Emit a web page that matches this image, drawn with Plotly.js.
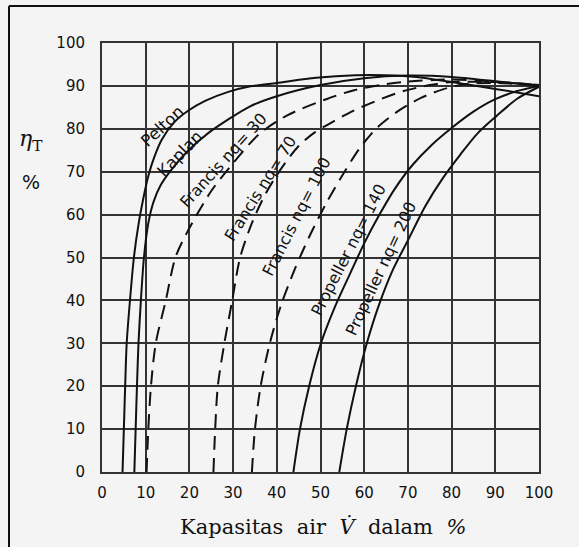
<!DOCTYPE html>
<html>
<head>
<meta charset="utf-8">
<script src="https://cdn.plot.ly/plotly-3.0.1.min.js"></script>
<style>
  html, body { margin: 0; padding: 0; background: #f4f4f4; }
  #chart { width: 579px; height: 547px; }
</style>
</head>
<body>
<div id="chart"></div>
<script>
// ---- Data ----
const peltonX = [4.7, 5.0, 5.3, 5.65, 6.4, 7.3, 8.4, 9.5, 10.6, 12.0, 13.7, 16.5, 19.7, 23.6, 28.9, 34, 40, 49, 58, 65, 72, 80, 90, 100];
const peltonY = [0, 10, 20, 30, 40, 50, 58, 64, 69, 73.5, 77.5, 81.5, 84.2, 86.5, 88.6, 89.9, 90.7, 91.9, 92.5, 92.5, 92.1, 90.9, 89.3, 87.6];

const kaplanX = [7.4, 7.7, 8.0, 8.35, 8.9, 9.6, 10.6, 11.8, 13.5, 15.9, 19.8, 24.3, 28.9, 34, 40, 50, 60, 70, 80, 90, 100];
const kaplanY = [0, 10, 20, 30, 40, 50, 58, 63, 67, 70.5, 75, 79, 82.2, 85.3, 87.6, 90.2, 91.8, 92.4, 92.1, 91.1, 90];

const francis30X = [10.2, 10.6, 11.2, 12.3, 14.6, 16.8, 19.8, 25, 30, 36, 42.5, 51.3, 57.7, 64.4, 70, 80, 90, 100];
const francis30Y = [0, 10, 20, 30, 40, 50, 56.5, 65.5, 72, 78.8, 83.2, 86.9, 89.0, 90.3, 91.0, 91.5, 91.0, 90.2];

const francis70X = [25.5, 25.9, 26.5, 28.0, 29.8, 31.6, 34.3, 37.5, 41.2, 45, 48.6, 51.7, 57.5, 64, 69, 75, 80, 90, 100];
const francis70Y = [0, 10, 20, 30, 40, 50, 58, 65, 71, 76, 79.1, 81, 84.2, 87, 88.8, 90.2, 90.9, 90.9, 90.2];

const francis100X = [34.3, 35.0, 36.3, 38.4, 41, 44, 47.5, 51.5, 55.5, 59, 63, 68, 73, 78, 83, 90, 100];
const francis100Y = [0, 10, 20, 30, 39, 47, 55, 63, 70, 75.5, 80.3, 84.3, 87.2, 89.2, 90.4, 90.7, 90.1];

const propeller140X = [43.8, 45.3, 47.4, 50.1, 53.3, 56.8, 60, 63.5, 67, 71, 75.5, 80, 85, 90, 95, 100];
const propeller140Y = [0, 10, 20, 30, 38.5, 46.3, 53.3, 60, 66, 71.5, 76.3, 80.2, 84, 86.9, 88.8, 90];

const propeller200X = [54.3, 56.0, 58.1, 60.6, 63.4, 66.5, 70, 74, 78, 82, 86, 90.3, 95, 100];
const propeller200Y = [0, 10, 20, 30, 39, 47, 54, 62, 68.5, 74, 79, 83, 87, 89.8];

const tickVals = [0, 10, 20, 30, 40, 50, 60, 70, 80, 90, 100];
const tickText = ["0", "10", "20", "30", "40", "50", "60", "70", "80", "90", "100"];

// curve labels
const labelTexts = ["Pelton", "Kaplan", "Francis nq= 30", "Francis nq= 70", "Francis nq= 100", "Propeller nq= 140", "Propeller nq= 200"];
const labelX = [13.8, 17.95, 27.7, 36.2, 44.5, 56.3, 63.8];
const labelY = [80.5, 74.15, 72.7, 66.15, 59.6, 51.7, 47.5];
const labelAngle = [-43, -46, -48, -58, -63, -63, -65];
const labelSize = [16.5, 16.5, 16, 16, 16, 16, 16];

const xTitle = "Kapasitas\u00a0\u00a0air\u00a0\u00a0<i>V\u0307</i>\u00a0\u00a0dalam\u00a0\u00a0<i>%</i>";

// ---- Traces ----
function curve(x, y, dashed) {
  return {
    x: x, y: y, type: "scatter", mode: "lines",
    line: { color: "#111", width: 2, shape: "spline", smoothing: 0.8, dash: dashed ? "14px,8px" : "solid" },
    hoverinfo: "skip", showlegend: false
  };
}
const data = [
  curve(peltonX, peltonY, false),
  curve(kaplanX, kaplanY, false),
  curve(francis30X, francis30Y, true),
  curve(francis70X, francis70Y, true),
  curve(francis100X, francis100Y, true),
  curve(propeller140X, propeller140Y, false),
  curve(propeller200X, propeller200Y, false)
];

const annotations = labelTexts.map((t, i) => ({
  text: t, x: labelX[i], y: labelY[i], xref: "x", yref: "y",
  showarrow: false, textangle: labelAngle[i],
  font: { family: "DejaVu Sans", size: labelSize[i], color: "#111" },
  xanchor: "center", yanchor: "middle"
}));
annotations.push(
  { text: "<i>\u03b7</i><sub>T</sub>", xref: "paper", yref: "paper", x: -0.162, y: 0.772, showarrow: false,
    font: { family: "DejaVu Serif", size: 22, color: "#111" }, xanchor: "center", yanchor: "middle" },
  { text: "%", xref: "paper", yref: "paper", x: -0.162, y: 0.676, showarrow: false,
    font: { family: "DejaVu Sans", size: 19, color: "#111" }, xanchor: "center", yanchor: "middle" },
  { text: xTitle, xref: "paper", yref: "paper", x: 0.505, y: -0.128, showarrow: false,
    font: { family: "DejaVu Serif", size: 21, color: "#111" }, xanchor: "center", yanchor: "middle" }
);

const axisCommon = {
  range: [0, 100], tickmode: "array", tickvals: tickVals, ticktext: tickText,
  showgrid: true, gridcolor: "#333", gridwidth: 2,
  zeroline: false, showline: true, linecolor: "#333", linewidth: 2, mirror: true,
  ticks: "outside", tickcolor: "rgba(0,0,0,0)",
  tickfont: { family: "DejaVu Sans", size: 15, color: "#111" },
  fixedrange: true
};

const layout = {
  width: 579, height: 547,
  margin: { l: 102, r: 40, t: 43, b: 75 },
  paper_bgcolor: "#f4f4f4", plot_bgcolor: "#f4f4f4",
  xaxis: Object.assign({}, axisCommon, { ticklen: 6 }),
  yaxis: Object.assign({}, axisCommon, { ticklen: 12 }),
  showlegend: false,
  annotations: annotations,
  shapes: [
    { type: "line", xref: "paper", yref: "paper", x0: -0.2128, x1: -0.2128, y0: 1.0862, y1: -0.2, line: { color: "#111", width: 2 } },
    { type: "line", xref: "paper", yref: "paper", x0: -0.2128, x1: 1.1, y0: 1.0862, y1: 1.0862, line: { color: "#111", width: 2 } }
  ]
};

Plotly.newPlot("chart", data, layout, { displayModeBar: false, staticPlot: true });
</script>
</body>
</html>
